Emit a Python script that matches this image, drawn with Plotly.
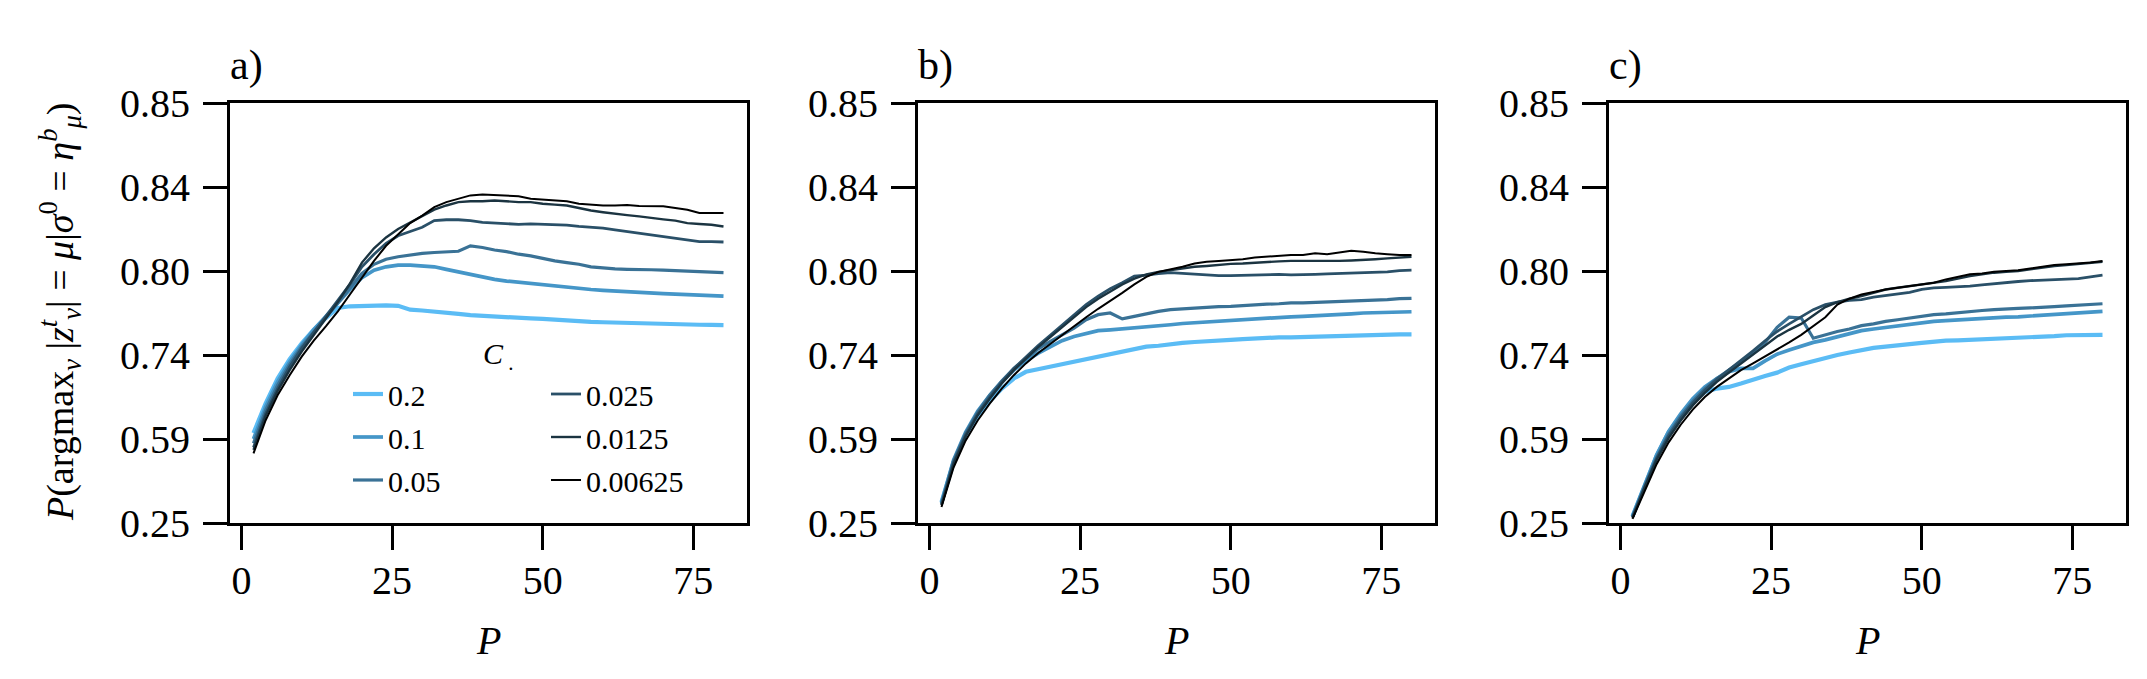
import numpy as np
import plotly.graph_objects as go

# ---------------- data ----------------
P = list(range(2, 81, 2))

c_labels = ["0.2", "0.1", "0.05", "0.025", "0.0125", "0.00625"]
c_colors = ["#5bbcf5", "#4596c8", "#3a7296", "#2a5068", "#1b3441", "#000000"]
c_widths = [4.2, 3.7, 3.2, 2.8, 2.4, 2.0]

y_tick_vals = [0.25, 0.59, 0.74, 0.80, 0.84, 0.85]
y_tick_text = ["0.25", "0.59", "0.74", "0.80", "0.84", "0.85"]
x_tick_vals = [0, 25, 50, 75]
panel_labels = ["a)", "b)", "c)"]

# panel a
a_020 = [0.6005, 0.653, 0.698, 0.7325, 0.7484, 0.758, 0.7664, 0.7736, 0.7748, 0.7751,
         0.7751, 0.7754, 0.7751, 0.7724, 0.7718, 0.7712, 0.7706, 0.7694, 0.7685, 0.7679,
         0.7673, 0.767, 0.7664, 0.7661, 0.7658, 0.7652, 0.7643, 0.764, 0.7637, 0.7634,
         0.7631, 0.7628, 0.7626, 0.7623, 0.7622, 0.7619, 0.7617, 0.7616, 0.7615, 0.7614]
a_010 = [0.59, 0.647, 0.692, 0.728, 0.7472, 0.758, 0.7676, 0.7772, 0.7868, 0.7952,
         0.8004, 0.802, 0.8028, 0.8028, 0.8026, 0.802, 0.8008, 0.7994, 0.7976, 0.7952,
         0.794, 0.7928, 0.7919, 0.791, 0.7898, 0.7889, 0.788, 0.7874, 0.7868, 0.7862,
         0.7856, 0.785, 0.7847, 0.7844, 0.7838, 0.7835, 0.7832, 0.7826, 0.7823, 0.782]
a_005 = [0.573, 0.641, 0.686, 0.7235, 0.746, 0.7568, 0.767, 0.7772, 0.788, 0.7982,
         0.8032, 0.8056, 0.8068, 0.8076, 0.8084, 0.8088, 0.8092, 0.8094, 0.812, 0.8112,
         0.81, 0.8092, 0.808, 0.8072, 0.806, 0.8048, 0.804, 0.8032, 0.802, 0.8014,
         0.801, 0.8008, 0.8008, 0.8006, 0.8004, 0.8002, 0.80, 0.7997, 0.7991, 0.7988]
a_0025 = [0.556, 0.635, 0.68, 0.719, 0.7448, 0.7562, 0.767, 0.7784, 0.7904, 0.802,
          0.808, 0.8132, 0.8168, 0.8188, 0.8208, 0.824, 0.8244, 0.8244, 0.824, 0.8232,
          0.8228, 0.8224, 0.8222, 0.8224, 0.8222, 0.822, 0.8218, 0.8212, 0.8208, 0.8204,
          0.8196, 0.8188, 0.818, 0.8172, 0.8164, 0.8156, 0.8148, 0.814, 0.814, 0.8138]
a_00125 = [0.5458, 0.6305, 0.6755, 0.713, 0.7424, 0.7544, 0.7658, 0.7778, 0.791, 0.804,
           0.8108, 0.816, 0.82, 0.8232, 0.826, 0.8292, 0.8312, 0.8328, 0.8332, 0.8332,
           0.8336, 0.8332, 0.8328, 0.8328, 0.832, 0.8316, 0.8312, 0.83, 0.8288, 0.828,
           0.8272, 0.8266, 0.826, 0.8252, 0.8246, 0.824, 0.8228, 0.8224, 0.822, 0.8212]
a_000625 = [0.5322, 0.623, 0.668, 0.704, 0.737, 0.7502, 0.7604, 0.7712, 0.7832, 0.7952,
            0.8048, 0.812, 0.8176, 0.8228, 0.8264, 0.8304, 0.8328, 0.8344, 0.836, 0.8364,
            0.8362, 0.836, 0.8356, 0.8344, 0.834, 0.8336, 0.8332, 0.832, 0.8316, 0.8312,
            0.8312, 0.8314, 0.831, 0.8308, 0.8308, 0.83, 0.8292, 0.8276, 0.8276, 0.8276]

# panel b
b_020 = [0.335, 0.4948, 0.5975, 0.632, 0.6575, 0.68, 0.698, 0.71, 0.7145, 0.719,
         0.7235, 0.728, 0.7325, 0.737, 0.7412, 0.743, 0.7448, 0.746, 0.7466, 0.7478,
         0.7487, 0.7493, 0.7496, 0.7502, 0.7508, 0.7514, 0.752, 0.7523, 0.7526, 0.7526,
         0.7529, 0.7529, 0.7532, 0.7535, 0.7538, 0.7541, 0.7544, 0.7544, 0.7547, 0.7547]
b_010 = [0.3316, 0.505, 0.602, 0.6395, 0.668, 0.692, 0.713, 0.7295, 0.7412, 0.746,
         0.7502, 0.7532, 0.7556, 0.7574, 0.758, 0.7586, 0.7592, 0.7598, 0.7607, 0.7616,
         0.7625, 0.7631, 0.7634, 0.764, 0.7643, 0.7649, 0.7655, 0.7661, 0.7667, 0.7673,
         0.7676, 0.7679, 0.7682, 0.7688, 0.7694, 0.77, 0.7703, 0.7706, 0.7709, 0.7709]
b_005 = [0.3282, 0.5016, 0.6005, 0.638, 0.668, 0.6935, 0.716, 0.734, 0.7442, 0.7496,
         0.7544, 0.7592, 0.7652, 0.7688, 0.77, 0.7658, 0.7676, 0.7694, 0.7712, 0.7724,
         0.773, 0.7733, 0.7739, 0.7745, 0.7748, 0.7754, 0.776, 0.7763, 0.7766, 0.7772,
         0.7772, 0.7775, 0.7778, 0.7781, 0.7784, 0.7787, 0.779, 0.7796, 0.7802, 0.7805]
b_0025 = [0.3248, 0.4948, 0.5975, 0.635, 0.665, 0.692, 0.716, 0.737, 0.7466, 0.7538,
          0.761, 0.7688, 0.776, 0.782, 0.7874, 0.7916, 0.7964, 0.797, 0.7982, 0.7988,
          0.7982, 0.7979, 0.7973, 0.7967, 0.7967, 0.797, 0.797, 0.7973, 0.7976, 0.7973,
          0.7973, 0.7976, 0.7979, 0.7982, 0.7985, 0.7988, 0.7991, 0.7994, 0.8002, 0.8004]
b_00125 = [0.3214, 0.488, 0.5945, 0.632, 0.662, 0.689, 0.713, 0.734, 0.7454, 0.7526,
           0.7598, 0.767, 0.7742, 0.7802, 0.7856, 0.7904, 0.7946, 0.7976, 0.7994, 0.8004,
           0.8012, 0.802, 0.8024, 0.803, 0.8034, 0.8036, 0.804, 0.8044, 0.8046, 0.8048,
           0.8048, 0.8046, 0.8046, 0.8048, 0.805, 0.8052, 0.8056, 0.806, 0.8064, 0.8068]
b_000625 = [0.3146, 0.4744, 0.5832, 0.623, 0.653, 0.68, 0.704, 0.725, 0.7412, 0.7478,
            0.7544, 0.7604, 0.767, 0.773, 0.7784, 0.7844, 0.7904, 0.7958, 0.7994, 0.8008,
            0.802, 0.8036, 0.8044, 0.8048, 0.8052, 0.8056, 0.8064, 0.8068, 0.8072, 0.8076,
            0.8076, 0.8084, 0.808, 0.8088, 0.8096, 0.8092, 0.8084, 0.808, 0.8076, 0.8076]

# panel c
c_020 = [0.2772, 0.403, 0.522, 0.602, 0.632, 0.6575, 0.674, 0.68, 0.683, 0.689,
         0.6965, 0.7025, 0.7085, 0.7175, 0.7235, 0.7295, 0.734, 0.74, 0.7418, 0.7436,
         0.7451, 0.746, 0.7472, 0.7478, 0.7487, 0.7496, 0.7502, 0.7505, 0.7508, 0.7511,
         0.7514, 0.7517, 0.7523, 0.7529, 0.7532, 0.7535, 0.7541, 0.7544, 0.7544, 0.7544]
c_010 = [0.2772, 0.4064, 0.5254, 0.6035, 0.635, 0.662, 0.683, 0.698, 0.71, 0.716,
         0.716, 0.7295, 0.7406, 0.7436, 0.7466, 0.749, 0.7508, 0.7532, 0.7556, 0.7574,
         0.7586, 0.7598, 0.761, 0.7622, 0.7631, 0.764, 0.7646, 0.7652, 0.7658, 0.7664,
         0.7667, 0.767, 0.7673, 0.7679, 0.7688, 0.7694, 0.77, 0.7706, 0.7709, 0.7712]
c_005 = [0.2738, 0.3996, 0.5152, 0.599, 0.6305, 0.6575, 0.68, 0.698, 0.713, 0.728,
         0.7412, 0.749, 0.7598, 0.767, 0.7664, 0.752, 0.7544, 0.7568, 0.7586, 0.761,
         0.7622, 0.764, 0.7652, 0.7664, 0.7676, 0.7688, 0.7694, 0.7703, 0.7712, 0.7718,
         0.7724, 0.773, 0.7733, 0.7736, 0.7739, 0.7745, 0.7751, 0.7757, 0.7763, 0.7766]
c_0025 = [0.2738, 0.3962, 0.5118, 0.596, 0.6275, 0.6545, 0.677, 0.6965, 0.713, 0.7295,
          0.743, 0.7502, 0.7568, 0.7622, 0.767, 0.7724, 0.776, 0.7778, 0.779, 0.7796,
          0.7814, 0.7826, 0.7838, 0.7847, 0.7868, 0.788, 0.7883, 0.7886, 0.7892, 0.7901,
          0.791, 0.7916, 0.7925, 0.7931, 0.7934, 0.7937, 0.794, 0.7946, 0.7958, 0.797]
c_00125 = [0.2704, 0.3928, 0.505, 0.5915, 0.623, 0.65, 0.6725, 0.692, 0.7085, 0.725,
           0.7406, 0.7472, 0.7532, 0.758, 0.7622, 0.7682, 0.7742, 0.7778, 0.7802, 0.782,
           0.7844, 0.7868, 0.788, 0.7892, 0.7904, 0.7916, 0.7928, 0.7946, 0.7964, 0.7976,
           0.7988, 0.7994, 0.80, 0.8008, 0.8016, 0.8024, 0.8028, 0.8034, 0.804, 0.8044]
c_000625 = [0.267, 0.3792, 0.488, 0.5764, 0.6155, 0.6425, 0.665, 0.683, 0.698, 0.713,
            0.725, 0.737, 0.7442, 0.749, 0.7544, 0.7604, 0.767, 0.776, 0.7802, 0.7832,
            0.785, 0.7868, 0.788, 0.7892, 0.7904, 0.7916, 0.794, 0.7958, 0.7976, 0.7982,
            0.7994, 0.80, 0.8004, 0.8012, 0.802, 0.8028, 0.8032, 0.8036, 0.804, 0.8048]

panels = [
    [a_020, a_010, a_005, a_0025, a_00125, a_000625],
    [b_020, b_010, b_005, b_0025, b_00125, b_000625],
    [c_020, c_010, c_005, c_0025, c_00125, c_000625],
]

# ---------------- axis scale (non-linear, ticks evenly spaced) ----------------
tick_pos = list(range(len(y_tick_vals)))


def to_axis(vals):
    return np.interp(np.asarray(vals, dtype=float), y_tick_vals, tick_pos)


# ---------------- layout geometry (page body adds ~8px offset) ----------------
W, H = 2147, 679
x_domains = [[222 / W, 739 / W], [910 / W, 1427 / W], [1601 / W, 2118 / W]]
y_domain = [1 - 515 / H, 1 - 95 / H]
FONT = "Liberation Serif"

fig = go.Figure()

for pi, series in enumerate(panels):
    xa = "x" if pi == 0 else f"x{pi + 1}"
    ya = "y" if pi == 0 else f"y{pi + 1}"
    for si, vals in enumerate(series):
        fig.add_trace(go.Scatter(
            x=P, y=to_axis(vals), mode="lines",
            line=dict(color=c_colors[si], width=c_widths[si]),
            name=c_labels[si],
            legendgroup=c_labels[si],
            legend="legend" if si < 3 else "legend2",
            showlegend=(pi == 0),
            xaxis=xa, yaxis=ya,
            hoverinfo="skip",
        ))

axis_common = dict(
    showline=True, linecolor="black", linewidth=3, mirror=True,
    ticks="outside", ticklen=24, tickwidth=3, tickcolor="black",
    showgrid=False, zeroline=False, automargin=False,
    tickfont=dict(family=FONT, size=40, color="black"),
)

layout = dict(
    width=W, height=H,
    margin=dict(l=0, r=0, t=0, b=0, pad=0, autoexpand=False),
    plot_bgcolor="white", paper_bgcolor="white",
    font=dict(family=FONT, color="black"),
)

for pi in range(3):
    xk = "xaxis" if pi == 0 else f"xaxis{pi + 1}"
    yk = "yaxis" if pi == 0 else f"yaxis{pi + 1}"
    xa_anchor = "y" if pi == 0 else f"y{pi + 1}"
    ya_anchor = "x" if pi == 0 else f"x{pi + 1}"
    layout[xk] = dict(axis_common, domain=x_domains[pi], anchor=xa_anchor,
                      range=[-1.9, 83.9], tickvals=x_tick_vals, ticklabelstandoff=-4)
    layout[yk] = dict(axis_common, domain=y_domain, anchor=ya_anchor,
                      range=[0, len(y_tick_vals) - 1], tickvals=tick_pos,
                      ticktext=y_tick_text, ticklabelstandoff=5)

leg_common = dict(
    bgcolor="rgba(0,0,0,0)", borderwidth=0,
    font=dict(family=FONT, size=30, color="black"),
    orientation="v", xanchor="left", yanchor="top",
    tracegroupgap=1, itemwidth=30,
)
layout["legend"] = dict(leg_common, x=340 / W, y=1 - 360 / H)
layout["legend2"] = dict(leg_common, x=538 / W, y=1 - 360 / H)

annotations = []
for pi in range(3):
    annotations.append(dict(
        text=panel_labels[pi], xref="paper", yref="paper",
        x=x_domains[pi][0] - 2 / W, y=1 - 57 / H, xanchor="left", yanchor="middle",
        showarrow=False, font=dict(family=FONT, size=42, color="black"),
    ))
    annotations.append(dict(
        text="<i>P</i>", xref="paper", yref="paper",
        x=(x_domains[pi][0] + x_domains[pi][1]) / 2, y=1 - 632 / H,
        xanchor="center", yanchor="middle",
        showarrow=False, font=dict(family=FONT, size=40, color="black"),
    ))

annotations.append(dict(
    text=("<i>P</i>(argmax<sub><i>ν</i></sub> |<i>z</i><sup><i>t</i></sup><sub><i>ν</i></sub>| = "
          "<i>μ</i>|<i>σ</i><sup>0</sup> = <i>η</i><sup><i>b</i></sup><sub><i>μ</i></sub>)"),
    xref="paper", yref="paper", x=52 / W, y=1 - 304 / H,
    xanchor="center", yanchor="middle", textangle=-90,
    showarrow=False, font=dict(family=FONT, size=38, color="black"),
))
annotations.append(dict(
    text="<i>C</i><sub> .</sub>", xref="paper", yref="paper",
    x=490 / W, y=1 - 348 / H, xanchor="center", yanchor="middle",
    showarrow=False, font=dict(family=FONT, size=30, color="black"),
))
layout["annotations"] = annotations

fig.update_layout(**layout)
fig.write_html("out.html")
